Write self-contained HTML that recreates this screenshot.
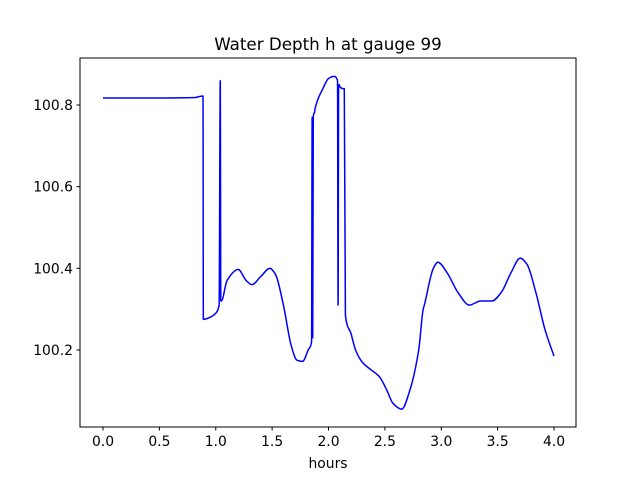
<!DOCTYPE html>
<html><head><meta charset="utf-8"><style>
body{margin:0;background:#fff;}
svg{display:block;font-family:"DejaVu Sans","Liberation Sans",sans-serif;}
</style></head><body>
<svg id="chart" width="640" height="480">
<rect width="640" height="480" fill="#fff"/>
<text x="328" y="50" text-anchor="middle" font-size="16.7">Water Depth h at gauge 99</text>
<g id="plot"></g>
<rect x="80" y="58" width="496" height="369" fill="none" stroke="#000" stroke-width="1"/>
<text x="328" y="468" text-anchor="middle" font-size="13.9">hours</text>
</svg>
<script>
const hours=[0,0.5,0.8,0.887,0.89,0.95,1.0,1.03,1.04,1.045,1.05,1.1,1.2,1.27,1.32,1.4,1.48,1.53,1.6,1.67,1.72,1.77,1.82,1.85,1.855,1.86,1.865,1.87,1.875,1.88,1.95,2.0,2.05,2.08,2.085,2.09,2.095,2.1,2.13,2.14,2.15,2.2,2.24,2.3,2.36,2.45,2.52,2.57,2.65,2.72,2.8,2.84,2.85,2.93,2.97,3.05,3.15,3.25,3.35,3.45,3.53,3.62,3.7,3.76,3.84,3.92,4.0];
const depth=[100.817,100.817,100.818,100.822,100.275,100.28,100.29,100.31,100.86,100.32,100.32,100.37,100.397,100.37,100.36,100.38,100.40,100.385,100.31,100.21,100.175,100.172,100.2,100.22,100.77,100.23,100.77,100.78,100.78,100.79,100.84,100.865,100.87,100.86,100.31,100.85,100.85,100.845,100.84,100.84,100.285,100.24,100.2,100.17,100.155,100.135,100.1,100.07,100.055,100.1,100.2,100.3,100.31,100.4,100.415,100.39,100.34,100.31,100.32,100.32,100.34,100.39,100.425,100.41,100.34,100.25,100.185];
const xTicks=[0,0.5,1,1.5,2,2.5,3,3.5,4];
const xTickLabels=["0.0","0.5","1.0","1.5","2.0","2.5","3.0","3.5","4.0"];
const yTicks=[100.2,100.4,100.6,100.8];
const yTickLabels=["100.2","100.4","100.6","100.8"];
const X=h=>103+h*112.75;
const Y=v=>105-(v-100.8)*408.3;
const NS="http://www.w3.org/2000/svg";
const g=document.getElementById('plot');
function mk(t,a){const e=document.createElementNS(NS,t);for(const k in a)e.setAttribute(k,a[k]);g.appendChild(e);return e;}
xTicks.forEach((t,i)=>{
 const l=mk('line',{x1:X(t),x2:X(t),y1:427,y2:430.5,stroke:'#000'});
 
 
 const tx=mk('text',{x:X(t),y:446,'text-anchor':'middle','font-size':'13.9'});
 tx.textContent=xTickLabels[i];
 
 
});
yTicks.forEach((t,i)=>{
 const l=mk('line',{x1:76.5,x2:80,y1:Y(t),y2:Y(t),stroke:'#000'});
 
 
 const tx=mk('text',{x:73,y:Y(t)+5,'text-anchor':'end','font-size':'13.9'});
 tx.textContent=yTickLabels[i];
 
 
});
// monotone cubic path (Fritsch-Carlson) for smooth non-overshooting curve
const px=hours.map(X), py=depth.map(Y), n=px.length;
const d=[],m=new Array(n).fill(0);
for(let i=0;i<n-1;i++)d.push((py[i+1]-py[i])/(px[i+1]-px[i]));
m[0]=d[0];m[n-1]=d[n-2];
for(let i=1;i<n-1;i++){
 if(d[i-1]*d[i]<=0)m[i]=0;
 else{const w1=2*(px[i+1]-px[i])+(px[i]-px[i-1]),w2=(px[i+1]-px[i])+2*(px[i]-px[i-1]);
 m[i]=(w1+w2)/(w1/d[i-1]+w2/d[i]);}
}
let path='M'+px[0]+','+py[0];
for(let i=0;i<n-1;i++){
 const h=(px[i+1]-px[i])/3;
 path+=' C'+(px[i]+h)+','+(py[i]+m[i]*h)+' '+(px[i+1]-h)+','+(py[i+1]-m[i+1]*h)+' '+px[i+1]+','+py[i+1];
}
const p=mk('path',{d:path,fill:'none',stroke:'#0000ff','stroke-width':1.5,'stroke-linejoin':'round'});


</script>
</body></html>
